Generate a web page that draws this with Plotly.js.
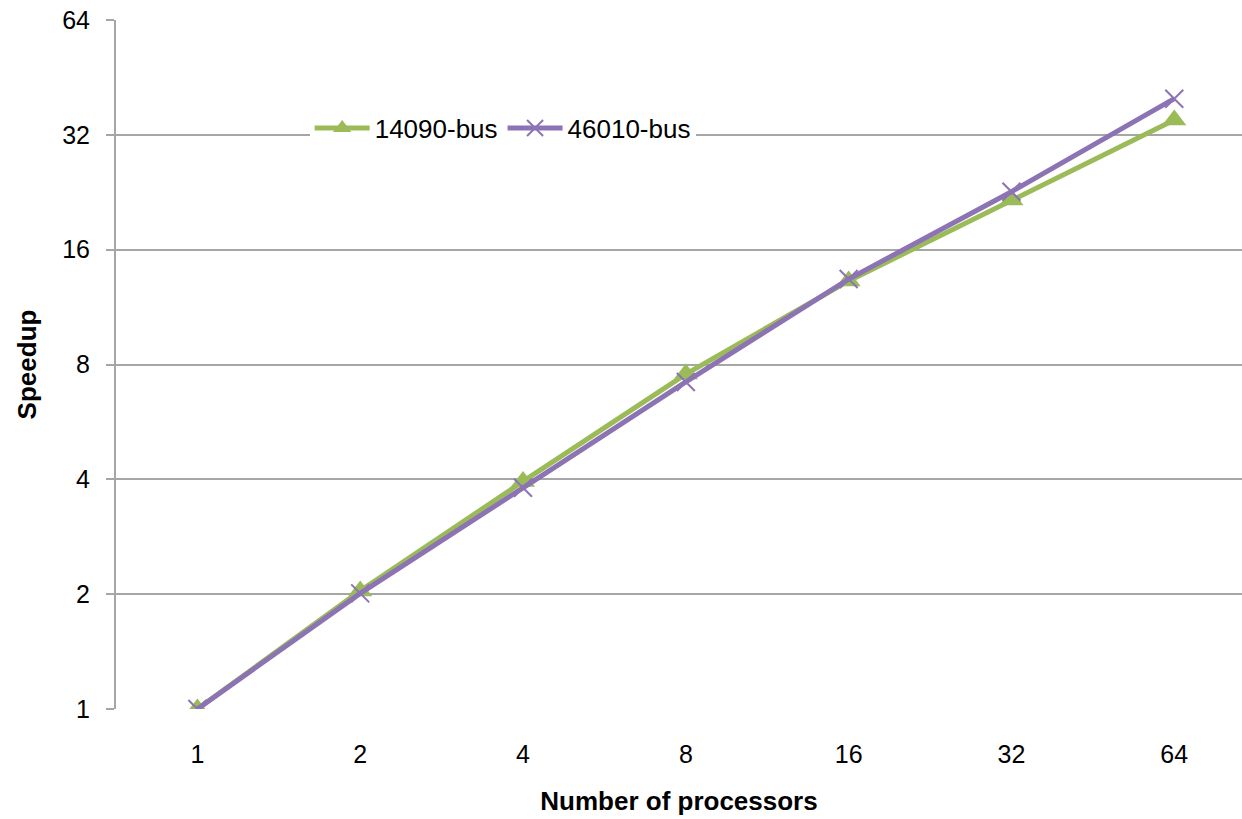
<!DOCTYPE html>
<html>
<head>
<meta charset="utf-8">
<script src="https://cdn.plot.ly/plotly-3.0.1.min.js"></script>
<style>html,body{margin:0;padding:0;background:#fff;}#chart{width:1242px;height:819px;}</style>
</head>
<body>
<div id="chart"></div>
<script>
const processors = ["1", "2", "4", "8", "16", "32", "64"];
const bus14090 = [1, 2.04, 3.95, 7.55, 13.25, 21.6, 35.0];
const bus46010 = [1, 2.01, 3.8, 7.2, 13.4, 22.7, 39.8];
const yTicks = [1, 2, 4, 8, 16, 32, 64];

const traces = [
  {
    x: processors, y: bus14090, name: "14090-bus", type: "scatter", mode: "lines+markers",
    line: {color: "#9BBB59", width: 5},
    marker: {symbol: "triangle-up", size: 21, color: "#9BBB59"}
  },
  {
    x: processors, y: bus46010, name: "46010-bus", type: "scatter", mode: "lines+markers",
    line: {color: "#8C74B4", width: 5},
    marker: {symbol: "x-thin-open", size: 18, line: {color: "#8C74B4", width: 2}, color: "#8C74B4"}
  }
];

const layout = {
  width: 1242, height: 819,
  margin: {l: 116, r: 0, t: 20, b: 110},
  paper_bgcolor: "#fff", plot_bgcolor: "#fff",
  font: {family: "Liberation Sans, Arial, sans-serif", size: 25, color: "#000"},
  showlegend: true,
  legend: {
    orientation: "h", x: 0.172, y: 0.843, xanchor: "left", yanchor: "middle",
    bgcolor: "#fff", font: {size: 26}, itemwidth: 55, tracegroupgap: 0
  },
  xaxis: {
    type: "category", range: [-0.5, 6.416],
    showgrid: false, zeroline: false, showline: false,
    ticks: "", ticklabelstandoff: 28,
    tickfont: {size: 25},
    title: {text: "<b>Number of processors</b>", font: {size: 26}, standoff: 24}
  },
  yaxis: {
    type: "log", range: [0, Math.log10(64)],
    tickvals: yTicks, ticktext: yTicks.map(String),
    showgrid: true, gridcolor: "#A6A6A6", gridwidth: 2,
    showline: true, linecolor: "#A6A6A6", linewidth: 2,
    ticks: "outside", ticklen: 8, tickcolor: "#A6A6A6", tickwidth: 2,
    ticklabelstandoff: 11,
    tickfont: {size: 25},
    zeroline: false,
    title: {text: "<b>Speedup</b>", font: {size: 26}, standoff: 18}
  }
};

Plotly.newPlot("chart", traces, layout, {displayModeBar: false, staticPlot: true});
</script>
</body>
</html>
